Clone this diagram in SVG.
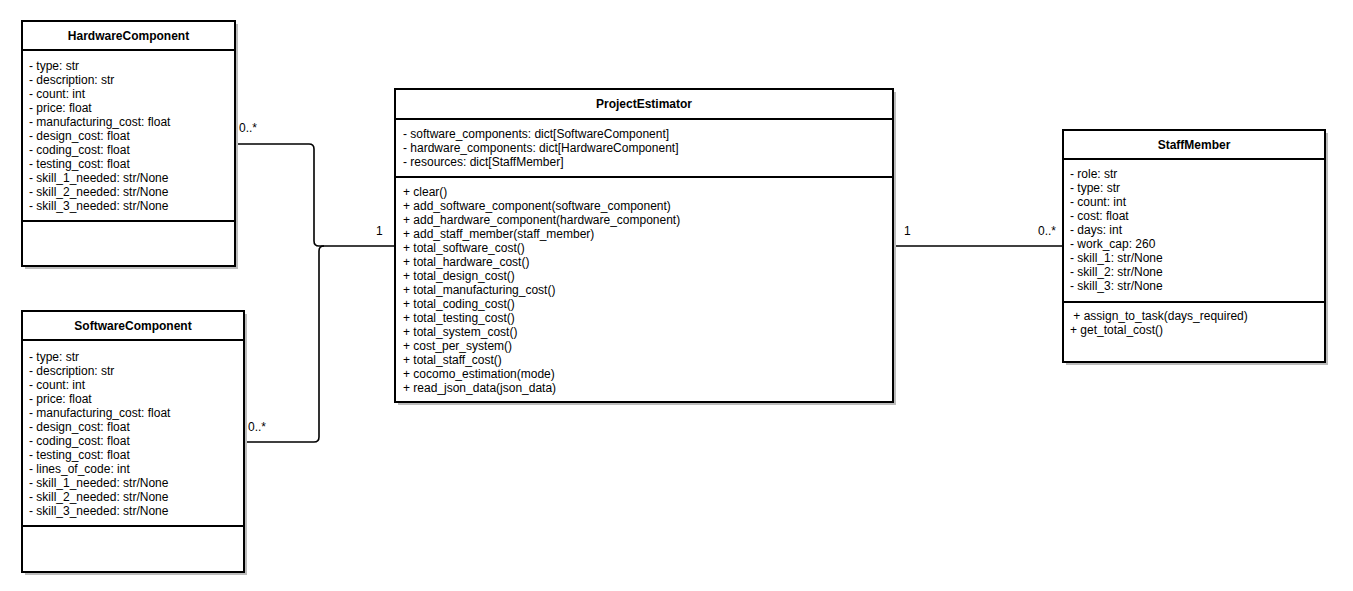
<svg xmlns="http://www.w3.org/2000/svg" width="1353" height="591" viewBox="0 0 1353 591">
<style>
  .shadow { fill: #bcbcbc; stroke: none; }
  .box { fill: #ffffff; stroke: #000000; stroke-width: 2; }
  .sep { stroke: #000000; stroke-width: 2; fill: none; }
  .title { font-family: "Liberation Sans", Arial, sans-serif; font-size: 12px; font-weight: bold; text-anchor: middle; fill: #000; }
  .txt { font-family: "Liberation Sans", Arial, sans-serif; font-size: 12px; fill: #000; white-space: pre; }
  .conn { fill: none; stroke: #000000; stroke-width: 1.6; }
  .lbl { font-family: "Liberation Sans", Arial, sans-serif; font-size: 12px; fill: #000; }
</style>
<rect width="1353" height="591" fill="#ffffff"/>

<g id="connectors">
  <path class="conn" d="M235,144 H309 Q314,144 314,149 V241 Q314,246 319,246 H395"/>
  <path class="conn" d="M244,442 H314 Q319,442 319,437 V251 Q319,246 324,246"/>
  <path class="conn" d="M893,246 H1063"/>
  <rect x="238" y="121" width="22" height="14" fill="#fff"/>
  <text class="lbl" x="239" y="132">0..*</text>
  <text class="lbl" x="376" y="235">1</text>
  <rect x="247" y="420" width="22" height="14" fill="#fff"/>
  <text class="lbl" x="248" y="431">0..*</text>
  <text class="lbl" x="904" y="235">1</text>
  <text class="lbl" x="1038" y="235">0..*</text>
</g>

<g id="HardwareComponent">
  <rect class="shadow" x="25" y="24" width="213" height="245"/>
  <rect class="box" x="22" y="21" width="213" height="245"/>
  <line class="sep" x1="22" y1="50" x2="235" y2="50"/>
  <line class="sep" x1="22" y1="221" x2="235" y2="221"/>
  <text class="title" x="128.5" y="40">HardwareComponent</text>
  <text class="txt" x="29" y="70">- type: str</text>
  <text class="txt" x="29" y="84">- description: str</text>
  <text class="txt" x="29" y="98">- count: int</text>
  <text class="txt" x="29" y="112">- price: float</text>
  <text class="txt" x="29" y="126">- manufacturing_cost: float</text>
  <text class="txt" x="29" y="140">- design_cost: float</text>
  <text class="txt" x="29" y="154">- coding_cost: float</text>
  <text class="txt" x="29" y="168">- testing_cost: float</text>
  <text class="txt" x="29" y="182">- skill_1_needed: str/None</text>
  <text class="txt" x="29" y="196">- skill_2_needed: str/None</text>
  <text class="txt" x="29" y="210">- skill_3_needed: str/None</text>
</g>

<g id="SoftwareComponent">
  <rect class="shadow" x="25" y="314" width="222" height="261"/>
  <rect class="box" x="22" y="311" width="222" height="261"/>
  <line class="sep" x1="22" y1="340" x2="244" y2="340"/>
  <line class="sep" x1="22" y1="526" x2="244" y2="526"/>
  <text class="title" x="133" y="330">SoftwareComponent</text>
  <text class="txt" x="29" y="361">- type: str</text>
  <text class="txt" x="29" y="375">- description: str</text>
  <text class="txt" x="29" y="389">- count: int</text>
  <text class="txt" x="29" y="403">- price: float</text>
  <text class="txt" x="29" y="417">- manufacturing_cost: float</text>
  <text class="txt" x="29" y="431">- design_cost: float</text>
  <text class="txt" x="29" y="445">- coding_cost: float</text>
  <text class="txt" x="29" y="459">- testing_cost: float</text>
  <text class="txt" x="29" y="473">- lines_of_code: int</text>
  <text class="txt" x="29" y="487">- skill_1_needed: str/None</text>
  <text class="txt" x="29" y="501">- skill_2_needed: str/None</text>
  <text class="txt" x="29" y="515">- skill_3_needed: str/None</text>
</g>

<g id="ProjectEstimator">
  <rect class="shadow" x="398" y="92" width="498" height="313"/>
  <rect class="box" x="395" y="89" width="498" height="313"/>
  <line class="sep" x1="395" y1="119" x2="893" y2="119"/>
  <line class="sep" x1="395" y1="177" x2="893" y2="177"/>
  <text class="title" x="644" y="108">ProjectEstimator</text>
  <text class="txt" x="403" y="138">- software_components: dict[SoftwareComponent]</text>
  <text class="txt" x="403" y="152">- hardware_components: dict[HardwareComponent]</text>
  <text class="txt" x="403" y="166">- resources: dict[StaffMember]</text>
  <text class="txt" x="403" y="196">+ clear()</text>
  <text class="txt" x="403" y="210">+ add_software_component(software_component)</text>
  <text class="txt" x="403" y="224">+ add_hardware_component(hardware_component)</text>
  <text class="txt" x="403" y="238">+ add_staff_member(staff_member)</text>
  <text class="txt" x="403" y="252">+ total_software_cost()</text>
  <text class="txt" x="403" y="266">+ total_hardware_cost()</text>
  <text class="txt" x="403" y="280">+ total_design_cost()</text>
  <text class="txt" x="403" y="294">+ total_manufacturing_cost()</text>
  <text class="txt" x="403" y="308">+ total_coding_cost()</text>
  <text class="txt" x="403" y="322">+ total_testing_cost()</text>
  <text class="txt" x="403" y="336">+ total_system_cost()</text>
  <text class="txt" x="403" y="350">+ cost_per_system()</text>
  <text class="txt" x="403" y="364">+ total_staff_cost()</text>
  <text class="txt" x="403" y="378">+ cocomo_estimation(mode)</text>
  <text class="txt" x="403" y="392">+ read_json_data(json_data)</text>
</g>

<g id="StaffMember">
  <rect class="shadow" x="1066" y="133" width="262" height="232"/>
  <rect class="box" x="1063" y="130" width="262" height="232"/>
  <line class="sep" x1="1063" y1="159" x2="1325" y2="159"/>
  <line class="sep" x1="1063" y1="302" x2="1325" y2="302"/>
  <text class="title" x="1194" y="149">StaffMember</text>
  <text class="txt" x="1070" y="178">- role: str</text>
  <text class="txt" x="1070" y="192">- type: str</text>
  <text class="txt" x="1070" y="206">- count: int</text>
  <text class="txt" x="1070" y="220">- cost: float</text>
  <text class="txt" x="1070" y="234">- days: int</text>
  <text class="txt" x="1070" y="248">- work_cap: 260</text>
  <text class="txt" x="1070" y="262">- skill_1: str/None</text>
  <text class="txt" x="1070" y="276">- skill_2: str/None</text>
  <text class="txt" x="1070" y="290">- skill_3: str/None</text>
  <text class="txt" x="1070" y="320"> + assign_to_task(days_required)</text>
  <text class="txt" x="1070" y="334">+ get_total_cost()</text>
</g>
</svg>
